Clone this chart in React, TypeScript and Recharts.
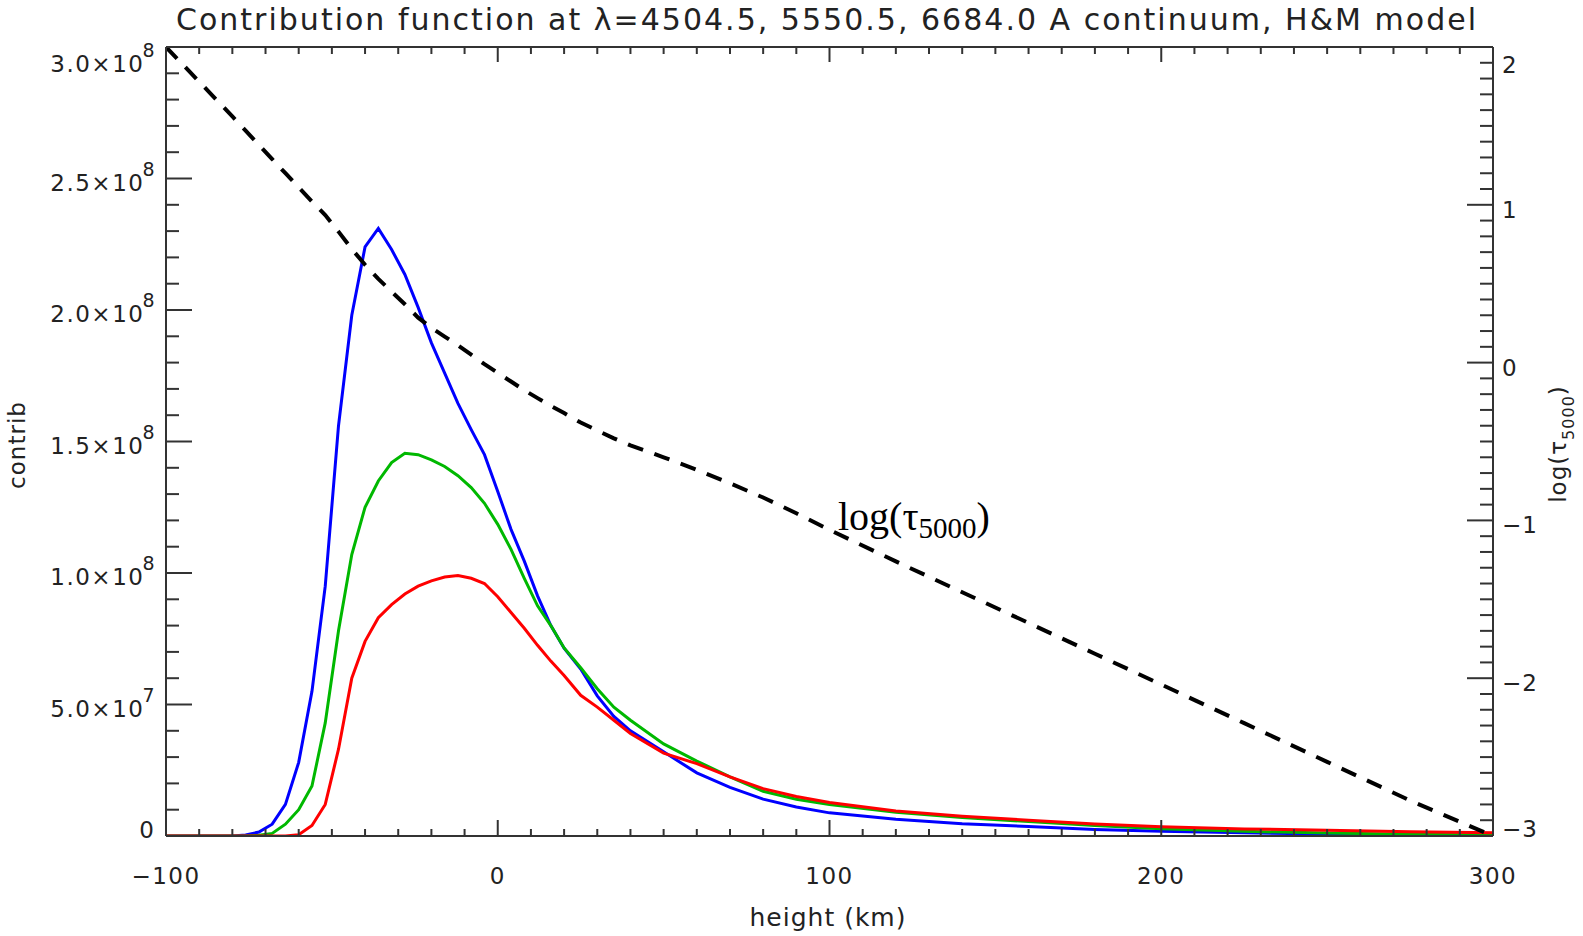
import React from 'react';
import { ComposedChart, Line, XAxis, YAxis } from 'recharts';

// heights (km) shared by every curve
const heights = [
  -100, -90, -80, -76, -72, -68, -64, -60, -56, -52, -48, -44, -40, -36, -32, -28, -24, -20,
  -16, -12, -8, -4, 0, 4, 8, 12, 16, 20, 25, 30, 35, 40, 50, 60, 70, 80, 90, 100, 120, 140,
  160, 180, 200, 225, 250, 275, 300,
];

// contribution functions, in units of 1e8
const contrib4504 = [
  0, 0, 0, 0.004, 0.015, 0.045, 0.12, 0.28, 0.55, 0.95, 1.56, 1.98, 2.24, 2.31, 2.23, 2.135, 2.01, 1.875,
  1.76, 1.645, 1.545, 1.45, 1.31, 1.166, 1.045, 0.913, 0.8, 0.714, 0.635, 0.533, 0.455, 0.4, 0.32, 0.24, 0.185, 0.14, 0.11, 0.088, 0.064, 0.047,
  0.036, 0.025, 0.018, 0.012, 0.008, 0.005, 0.003,
];
const contrib5550 = [
  0, 0, 0, 0, 0.003, 0.01, 0.045, 0.1, 0.19, 0.43, 0.78, 1.07, 1.25, 1.35, 1.42, 1.455, 1.45, 1.43,
  1.405, 1.37, 1.325, 1.265, 1.185, 1.09, 0.98, 0.875, 0.8, 0.715, 0.64, 0.56, 0.49, 0.44, 0.35, 0.285, 0.225, 0.17, 0.14, 0.12, 0.09, 0.07,
  0.055, 0.04, 0.028, 0.018, 0.011, 0.007, 0.004,
];
const contrib6684 = [
  0, 0, 0, 0, 0, 0, 0, 0.005, 0.04, 0.12, 0.33, 0.6, 0.74, 0.83, 0.88, 0.92, 0.95, 0.97,
  0.985, 0.99, 0.98, 0.96, 0.91, 0.85, 0.79, 0.725, 0.665, 0.61, 0.535, 0.49, 0.44, 0.39, 0.315, 0.275, 0.225, 0.18, 0.15, 0.127, 0.095, 0.075,
  0.06, 0.046, 0.035, 0.027, 0.022, 0.016, 0.012,
];
// log(tau_5000), right axis
const logTau = [
  2.0, 1.78, 1.56, 1.47, 1.38, 1.29, 1.2, 1.11, 1.02, 0.935, 0.83, 0.72, 0.62, 0.53, 0.45, 0.37, 0.285, 0.22,
  0.165, 0.11, 0.05, -0.01, -0.065, -0.12, -0.175, -0.225, -0.275, -0.32, -0.38, -0.43, -0.48, -0.525, -0.6, -0.68, -0.765, -0.855, -0.955, -1.06, -1.26, -1.455,
  -1.65, -1.845, -2.04, -2.285, -2.53, -2.775, -3.0,
];

const CONTRIB_UNIT = 1e8;

const xTicks = Array.from({ length: 41 }, (_, i) => -100 + i * 10);
const contribTicks = Array.from({ length: 31 }, (_, i) => i * 1e7);
const tauTicks = Array.from({ length: 51 }, (_, i) => (i - 30) / 10);

const data = heights.map((h, i) => ({
  h,
  b: contrib4504[i] * CONTRIB_UNIT,
  g: contrib5550[i] * CONTRIB_UNIT,
  r: contrib6684[i] * CONTRIB_UNIT,
  tau: logTau[i],
}));

const AXIS = '#333';
const INK = '#222';
const FONT = '"DejaVu Sans", sans-serif';
const TOP = 47;
const BOTTOM = 836;
const LEFT = 166;
const RIGHT = 1493;

const minus = (v: number) => (v < 0 ? `\u2212${Math.abs(v)}` : `${v}`);

function BottomTick({ x, y, payload }: any) {
  const v = payload.value;
  const major = v % 100 === 0;
  return (
    <g>
      <line x1={x} x2={x} y1={y} y2={y - (major ? 16 : 7)} stroke={AXIS} strokeWidth={2} />
      {major && (
        <text x={x} y={y + 48} textAnchor="middle" fontFamily={FONT} fontSize={23} letterSpacing={1.5} fill={INK}>
          {minus(v)}
        </text>
      )}
    </g>
  );
}

function TopTick({ x, y, payload }: any) {
  const major = payload.value % 100 === 0;
  return <line x1={x} x2={x} y1={y} y2={y + (major ? 15 : 7)} stroke={AXIS} strokeWidth={2} />;
}

function LeftTick({ x, y, payload }: any) {
  const v: number = payload.value;
  const major = Math.round(v / 1e7) % 5 === 0;
  let shift = 4;
  if (y < TOP + 5) shift = 17;
  if (y > BOTTOM - 5) shift = -6;
  let label: React.ReactNode = null;
  if (major) {
    if (v === 0) {
      label = (
        <text x={x - 12} y={y + shift + 8} textAnchor="end" fontFamily={FONT} fontSize={23} fill={INK}>
          0
        </text>
      );
    } else {
      const exp = Math.floor(Math.log10(v));
      const mant = (v / Math.pow(10, exp)).toFixed(1);
      label = (
        <text x={x - 10} y={y + shift + 8} textAnchor="end" fontFamily={FONT} fontSize={23} letterSpacing={1.5} fill={INK}>
          {`${mant}\u00d710`}
          <tspan dx={-2} dy={-15} fontSize={19}>
            {exp}
          </tspan>
        </text>
      );
    }
  }
  return (
    <g>
      <line x1={x} x2={x + (major ? 26 : 13)} y1={y} y2={y} stroke={AXIS} strokeWidth={2} />
      {label}
    </g>
  );
}

function RightTick({ x, y, payload }: any) {
  const v: number = payload.value;
  const major = Number.isInteger(v);
  let shift = 5;
  if (y < TOP + 5) shift = 18;
  if (y > BOTTOM - 5) shift = -7;
  return (
    <g>
      <line x1={x} x2={x - (major ? 26 : 13)} y1={y} y2={y} stroke={AXIS} strokeWidth={2} />
      {major && (
        <text x={x + 9} y={y + shift + 8} textAnchor="start" fontFamily={FONT} fontSize={23} letterSpacing={1} fill={INK}>
          {minus(v)}
        </text>
      )}
    </g>
  );
}

const axisLine = { stroke: AXIS, strokeWidth: 2 };

export default function App() {
  return (
    <div style={{ position: 'absolute', left: 0, top: 0, width: 1583, height: 936, background: '#fff' }}>
      <ComposedChart
        width={1583}
        height={936}
        data={data}
        margin={{ top: TOP - 20, right: 1583 - RIGHT - 60, bottom: 936 - BOTTOM - 60, left: LEFT - 60 }}
      >
        <XAxis
          xAxisId="bottom"
          dataKey="h"
          type="number"
          domain={[-100, 300]}
          ticks={xTicks}
          interval={0}
          allowDataOverflow
          height={60}
          tickSize={0}
          tickMargin={0}
          tickLine={false}
          axisLine={axisLine}
          tick={<BottomTick />}
        />
        <XAxis
          xAxisId="top"
          orientation="top"
          dataKey="h"
          type="number"
          domain={[-100, 300]}
          ticks={xTicks}
          interval={0}
          allowDataOverflow
          height={20}
          tickSize={0}
          tickMargin={0}
          tickLine={false}
          axisLine={axisLine}
          tick={<TopTick />}
        />
        <YAxis
          yAxisId="c"
          type="number"
          domain={[0, 3e8]}
          ticks={contribTicks}
          interval={0}
          allowDataOverflow
          width={60}
          tickSize={0}
          tickMargin={0}
          tickLine={false}
          axisLine={axisLine}
          tick={<LeftTick />}
        />
        <YAxis
          yAxisId="t"
          orientation="right"
          type="number"
          domain={[-3, 2]}
          ticks={tauTicks}
          interval={0}
          allowDataOverflow
          width={60}
          tickSize={0}
          tickMargin={0}
          tickLine={false}
          axisLine={axisLine}
          tick={<RightTick />}
        />
        <Line xAxisId="bottom" yAxisId="c" dataKey="b" type="linear" stroke="#0000ff" strokeWidth={3} dot={false} isAnimationActive={false} />
        <Line xAxisId="bottom" yAxisId="c" dataKey="g" type="linear" stroke="#00b800" strokeWidth={3} dot={false} isAnimationActive={false} />
        <Line xAxisId="bottom" yAxisId="c" dataKey="r" type="linear" stroke="#ff0000" strokeWidth={3} dot={false} isAnimationActive={false} />
        <Line
          xAxisId="bottom"
          yAxisId="t"
          dataKey="tau"
          type="linear"
          stroke="#000"
          strokeWidth={4}
          strokeDasharray="16 12"
          dot={false}
          isAnimationActive={false}
        />
      </ComposedChart>
      <svg
        width={1583}
        height={936}
        style={{ position: 'absolute', left: 0, top: 0, pointerEvents: 'none' }}
      >
        <text x={826} y={30} textAnchor="middle" fontFamily={FONT} fontSize={30} fill={INK} textLength={1300} lengthAdjust="spacing">
          Contribution function at λ=4504.5, 5550.5, 6684.0 A continuum, H&amp;M model
        </text>
        <text x={828} y={926} textAnchor="middle" fontFamily={FONT} fontSize={25} letterSpacing={1} fill={INK}>
          height (km)
        </text>
        <text transform="translate(25,445) rotate(-90)" textAnchor="middle" fontFamily={FONT} fontSize={23} letterSpacing={1} fill={INK}>
          contrib
        </text>
        <text transform="translate(1566,444) rotate(-90)" textAnchor="middle" fontFamily={FONT} fontSize={23} letterSpacing={1} fill={INK}>
          log(τ
          <tspan dy={8} fontSize={16}>5000</tspan>
          <tspan dy={-8}>)</tspan>
        </text>
        <text x={838} y={530} fontFamily='"Liberation Serif", serif' fontSize={40} fill="#000">
          log(τ
          <tspan dy={8} fontSize={29}>5000</tspan>
          <tspan dy={-8}>)</tspan>
        </text>
      </svg>
    </div>
  );
}
